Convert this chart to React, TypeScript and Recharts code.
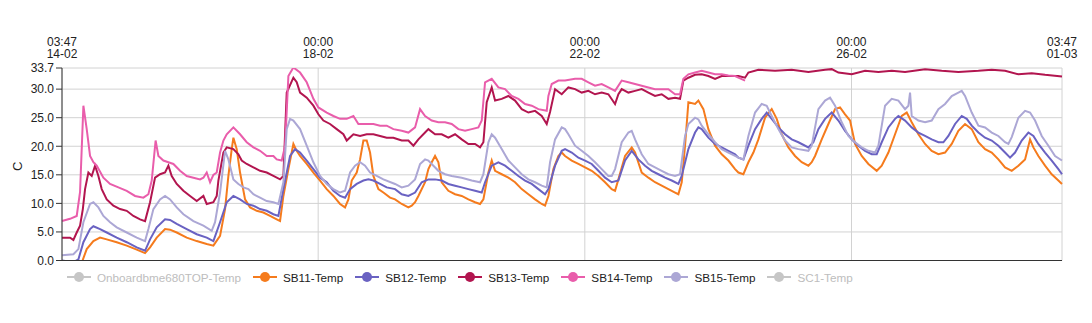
import { CartesianGrid, Label, Line, LineChart, XAxis, YAxis } from "recharts";

// x = hours since 14-02 03:47
const X_TICKS = [0, 92.2167, 188.2167, 284.2167, 360];
const X_TICK_TIME = ["03:47", "00:00", "00:00", "00:00", "03:47"];
const X_TICK_DATE = ["14-02", "18-02", "22-02", "26-02", "01-03"];
const Y_TICKS = [0, 5, 10, 15, 20, 25, 30, 33.7];

const SB11: [number, number][] = [
  [0, -0.3], [4.1, -0.5], [7.1, -0.4], [8.9, 2.0], [11.3, 3.4], [13.7, 4.0], [16.1, 3.7], [19.7, 3.2],
  [23.3, 2.6], [26.9, 1.9], [29.9, 1.3], [31.7, 2.3], [34.1, 4.0], [37.1, 5.5], [38.9, 5.4], [41.3, 4.9],
  [44.9, 4.0], [48.5, 3.4], [52.1, 2.9], [54.5, 2.6], [56.9, 4.3], [58.7, 9.0], [59.9, 14.8], [61.1, 19.5],
  [61.7, 21.5], [62.9, 19.5], [64.1, 15.4], [65.9, 10.7], [67.7, 9.3], [70.1, 8.7], [72.5, 8.4], [74.9, 7.8],
  [77.3, 7.2], [78.5, 6.9], [79.7, 11.3], [81.5, 16.0], [83.3, 20.4], [84.5, 19.2], [85.7, 18.3], [88.1, 16.9],
  [90.5, 15.4], [92.9, 14.0], [95.3, 12.5], [97.7, 11.3], [100.1, 9.9], [101.9, 9.3], [103.1, 10.7], [104.3, 14.0],
  [106.1, 15.4], [107.3, 17.7], [108.5, 21.0], [109.7, 21.0], [110.9, 18.9], [112.1, 14.8], [113.9, 12.5], [115.7, 11.9],
  [118.1, 11.0], [119.9, 10.7], [122.3, 9.9], [124.7, 9.3], [125.9, 9.6], [127.1, 10.2], [128.3, 11.3], [130.7, 13.7],
  [131.9, 16.0], [133.1, 17.2], [134.3, 18.3], [135.5, 17.2], [136.7, 13.7], [139.1, 12.2], [141.5, 11.6], [143.9, 11.3],
  [146.3, 10.7], [148.7, 10.2], [150.5, 9.9], [151.7, 10.7], [153.5, 15.4], [154.7, 17.5], [155.9, 15.7], [158.3, 15.1],
  [160.7, 14.5], [163.1, 13.7], [165.5, 12.5], [167.9, 11.6], [170.3, 10.7], [172.7, 9.9], [173.9, 9.6], [175.1, 11.3],
  [176.9, 16.0], [178.7, 18.3], [179.9, 18.9], [181.1, 18.3], [183.5, 17.5], [185.9, 16.9], [188.3, 16.3], [190.7, 15.7],
  [193.1, 14.8], [195.5, 13.7], [197.9, 12.5], [199.1, 12.2], [200.3, 14.2], [202.7, 18.3], [205.1, 19.8], [206.3, 18.9],
  [208.7, 15.4], [211.1, 14.5], [213.5, 13.7], [215.9, 13.1], [218.3, 12.5], [220.7, 11.9], [221.9, 11.6], [223.1, 13.7],
  [224.3, 20.1], [225.5, 27.7], [227.9, 27.4], [229.1, 28.0], [230.9, 26.5], [232.7, 23.0], [235.1, 20.1], [237.5, 18.6],
  [239.9, 17.5], [242.3, 16.0], [243.5, 15.4], [245.3, 15.1], [247.1, 17.2], [248.9, 18.9], [250.7, 21.2], [253.1, 25.0],
  [255.5, 26.5], [257.3, 24.8], [259.1, 22.1], [261.5, 19.8], [263.9, 18.3], [266.3, 17.2], [268.7, 16.6], [269.9, 17.2],
  [271.1, 18.3], [273.5, 21.2], [275.9, 23.9], [278.3, 26.5], [280.1, 26.8], [281.9, 25.6], [283.7, 24.5], [285.5, 20.4],
  [287.9, 18.3], [290.3, 16.9], [293.3, 15.7], [295.1, 16.6], [297.5, 18.9], [299.9, 22.1], [302.3, 25.3], [304.1, 25.9],
  [305.9, 24.2], [308.3, 22.1], [310.7, 20.4], [313.1, 19.2], [315.5, 18.6], [317.9, 18.9], [320.3, 20.4], [322.7, 22.7],
  [325.1, 23.9], [327.5, 23.0], [329.9, 20.7], [332.3, 19.5], [334.7, 18.9], [337.1, 17.7], [339.5, 16.3], [341.9, 15.7],
  [344.3, 16.6], [346.7, 17.7], [348.5, 21.2], [349.7, 19.8], [351.5, 18.3], [353.9, 16.6], [356.3, 15.1], [358.7, 14.0],
  [360, 13.4],
];

const SB12: [number, number][] = [
  [0, 0], [4.1, -0.3], [5.9, 0.2], [7.7, 3.2], [10.1, 5.5], [11.3, 6.0], [13.7, 5.5], [16.1, 4.9],
  [19.7, 4.0], [23.3, 3.2], [26.9, 2.3], [29.9, 1.7], [31.7, 3.7], [34.1, 5.8], [37.1, 7.2], [38.9, 7.1],
  [41.3, 6.4], [44.9, 5.5], [48.5, 4.6], [52.1, 4.0], [54.5, 3.4], [56.9, 6.7], [59.3, 10.2], [61.7, 11.3],
  [64.1, 10.7], [66.5, 9.9], [68.9, 9.6], [71.3, 9.0], [73.7, 8.7], [76.1, 8.1], [77.9, 7.8], [79.7, 12.5],
  [82.1, 18.3], [83.9, 19.5], [85.7, 18.9], [88.1, 17.5], [90.5, 16.0], [92.9, 14.5], [95.3, 13.7], [97.7, 12.2],
  [100.1, 11.3], [101.9, 11.0], [103.7, 12.5], [106.1, 13.4], [108.5, 14.0], [110.3, 14.2], [112.1, 14.0], [114.5, 13.4],
  [116.9, 12.8], [119.9, 12.5], [122.3, 11.6], [124.7, 11.3], [127.1, 11.9], [129.5, 13.7], [131.9, 14.2], [134.3, 14.2],
  [136.7, 14.0], [139.1, 13.4], [141.5, 13.1], [143.9, 12.8], [146.3, 12.5], [148.7, 12.2], [151.1, 11.9], [152.3, 13.7],
  [154.7, 16.6], [157.1, 17.2], [159.5, 16.6], [161.9, 15.7], [164.3, 14.8], [166.7, 14.0], [169.1, 13.4], [171.5, 12.5],
  [173.9, 11.6], [175.1, 12.5], [177.5, 16.6], [179.9, 19.2], [181.1, 19.5], [183.5, 18.9], [185.9, 18.0], [188.3, 17.5],
  [190.7, 16.9], [193.1, 15.7], [195.5, 14.5], [197.9, 13.7], [200.3, 14.0], [202.7, 17.5], [205.1, 19.2], [207.5, 17.7],
  [209.9, 16.6], [212.3, 15.7], [214.7, 15.1], [217.1, 14.5], [219.5, 14.0], [221.9, 13.4], [223.1, 14.8], [225.5, 19.5],
  [227.9, 22.4], [229.1, 23.3], [230.3, 23.0], [232.7, 21.5], [235.1, 20.4], [237.5, 19.8], [239.9, 19.2], [242.3, 18.6],
  [243.5, 18.0], [245.3, 17.7], [247.1, 20.1], [249.5, 23.0], [251.9, 24.8], [253.7, 25.9], [255.5, 24.8], [257.9, 23.3],
  [260.3, 22.1], [262.7, 21.2], [265.1, 20.7], [268.7, 19.8], [270.5, 20.7], [272.3, 23.0], [274.7, 24.8], [277.1, 25.9],
  [279.5, 24.5], [281.9, 22.7], [284.3, 21.2], [286.7, 20.1], [289.1, 19.2], [291.5, 18.6], [293.3, 18.6], [295.1, 20.7],
  [297.5, 23.3], [299.9, 24.8], [301.1, 25.3], [303.5, 24.5], [305.9, 23.3], [308.3, 22.4], [310.7, 21.8], [313.1, 21.2],
  [315.5, 20.7], [317.3, 20.7], [319.1, 21.8], [321.5, 23.9], [323.9, 25.3], [325.7, 24.8], [327.5, 23.6], [329.9, 22.4],
  [332.3, 21.5], [334.7, 21.0], [337.1, 20.1], [339.5, 18.9], [341.3, 18.0], [343.1, 18.9], [345.5, 21.0], [347.9, 22.4],
  [349.7, 21.8], [351.5, 20.4], [353.9, 18.9], [356.3, 17.5], [358.7, 16.0], [360, 15.1],
];

const SB13: [number, number][] = [
  [0, 4.0], [2.9, 4.0], [4.1, 3.6], [5.3, 4.9], [6.5, 6.1], [7.5, 9.0], [8.3, 12.5], [9.5, 15.4],
  [10.7, 14.8], [11.9, 16.6], [13.1, 14.8], [14.3, 12.5], [16.1, 10.7], [18.5, 9.6], [20.9, 9.0], [23.3, 8.7],
  [25.7, 7.8], [28.1, 7.2], [29.9, 6.9], [31.7, 10.2], [33.5, 14.5], [35.3, 15.1], [37.1, 15.4], [38.3, 16.6],
  [39.5, 14.8], [41.3, 13.4], [43.7, 12.2], [46.1, 11.3], [48.5, 10.4], [50.9, 11.3], [52.1, 9.9], [54.5, 10.2],
  [55.7, 11.3], [56.3, 14.0], [58.1, 18.9], [59.3, 19.8], [61.7, 19.5], [63.5, 18.6], [64.7, 17.5], [66.5, 16.9],
  [68.9, 16.3], [71.3, 15.7], [73.7, 15.4], [76.1, 14.8], [78.5, 14.2], [79.7, 14.8], [80.9, 29.4], [83.3, 32.0],
  [84.5, 31.2], [85.7, 29.4], [88.1, 28.5], [90.5, 27.1], [92.3, 25.6], [94.1, 24.5], [96.5, 23.9], [98.9, 23.0],
  [101.3, 22.1], [102.5, 21.0], [104.9, 22.1], [107.3, 21.8], [109.7, 22.1], [112.1, 22.1], [114.5, 21.8], [116.9, 21.5],
  [119.3, 21.5], [122.3, 21.0], [124.7, 21.0], [126.5, 20.1], [128.3, 21.2], [130.7, 22.4], [131.9, 23.0], [134.3, 22.1],
  [136.7, 22.1], [139.1, 21.5], [141.5, 22.1], [143.9, 21.2], [146.3, 20.4], [148.7, 20.4], [150.5, 19.8], [151.7, 20.7],
  [152.9, 27.7], [154.7, 30.3], [155.9, 28.0], [158.3, 28.3], [160.7, 28.8], [163.1, 28.0], [165.5, 26.5], [167.9, 25.9],
  [170.3, 26.2], [172.7, 25.3], [174.5, 23.9], [175.7, 26.0], [177.5, 30.0], [179.9, 29.1], [182.3, 30.3], [184.7, 30.0],
  [187.1, 29.4], [189.5, 29.7], [191.9, 29.1], [194.3, 29.4], [196.7, 29.1], [199.1, 27.4], [200.3, 29.1], [201.5, 30.0],
  [203.9, 29.4], [206.3, 29.7], [208.7, 30.0], [211.1, 29.4], [213.5, 28.8], [215.9, 29.1], [218.3, 28.3], [220.7, 28.5],
  [222.5, 28.3], [223.7, 31.5], [225.5, 32.0], [227.9, 32.5], [230.3, 32.6], [232.7, 32.3], [235.1, 31.8], [237.5, 32.3],
  [239.9, 32.3], [242.3, 32.3], [243.5, 32.3], [245.9, 32.0], [247.1, 32.9], [250.7, 33.4], [256.7, 33.2], [262.7, 33.4],
  [268.7, 33.0], [274.7, 33.4], [277.1, 33.5], [279.5, 32.9], [284.3, 32.6], [289.1, 33.2], [293.9, 33.0], [298.7, 33.2],
  [303.5, 33.0], [310.7, 33.5], [316.7, 33.2], [322.7, 33.0], [329.9, 33.2], [334.7, 33.4], [339.5, 33.2], [344.3, 32.6],
  [349.1, 32.8], [353.9, 32.5], [360, 32.2],
];

const SB14: [number, number][] = [
  [0, 6.9], [2.9, 7.3], [5.3, 7.8], [6.5, 12.0], [7.7, 27.1], [8.9, 23.0], [10.1, 18.3], [11.3, 17.2],
  [12.5, 16.6], [14.9, 14.5], [17.3, 13.4], [20.3, 12.8], [23.3, 12.2], [26.3, 11.3], [29.3, 11.0], [31.1, 11.6],
  [32.3, 14.0], [33.7, 21.0], [34.7, 18.3], [36.5, 17.5], [38.3, 17.2], [40.1, 16.9], [42.5, 15.7], [44.9, 14.8],
  [47.3, 14.5], [49.7, 14.2], [50.9, 14.5], [52.1, 15.4], [53.3, 13.7], [54.5, 15.0], [55.7, 15.4], [56.9, 18.9],
  [58.1, 21.0], [59.3, 22.1], [61.7, 23.3], [64.1, 22.1], [66.5, 20.7], [68.9, 19.8], [71.3, 19.2], [73.7, 18.3],
  [76.1, 18.3], [77.3, 17.7], [79.1, 17.5], [80.3, 20.0], [81.5, 32.3], [83.3, 33.8], [85.7, 32.9], [88.1, 31.2],
  [90.5, 28.3], [92.3, 26.8], [95.3, 25.9], [97.7, 25.3], [100.1, 24.8], [102.5, 24.8], [104.9, 25.3], [106.7, 23.9],
  [109.7, 23.9], [112.1, 23.9], [114.5, 23.6], [116.9, 23.6], [119.3, 23.0], [122.3, 22.7], [124.7, 22.4], [127.1, 23.3],
  [128.9, 26.5], [130.7, 25.3], [133.1, 24.5], [135.5, 24.2], [137.9, 24.2], [140.3, 23.9], [142.7, 23.0], [145.1, 22.7],
  [147.5, 23.0], [149.9, 23.3], [151.1, 24.5], [152.3, 31.2], [154.7, 31.8], [157.1, 30.3], [159.5, 30.0], [161.9, 28.8],
  [164.3, 28.3], [166.7, 27.4], [169.1, 27.1], [171.5, 26.5], [174.5, 26.2], [175.1, 28.8], [176.3, 30.9], [178.7, 31.5],
  [181.1, 31.5], [184.7, 31.8], [187.1, 31.8], [189.5, 31.2], [191.9, 30.6], [194.3, 30.9], [196.7, 30.3], [199.1, 29.7],
  [201.5, 31.5], [203.9, 31.2], [206.3, 30.9], [208.7, 30.6], [211.1, 30.3], [213.5, 30.0], [215.9, 30.0], [218.3, 30.0],
  [220.7, 29.1], [222.5, 29.1], [223.7, 31.8], [225.5, 32.6], [227.9, 32.9], [230.3, 33.2], [232.7, 32.9], [235.1, 32.6],
  [237.5, 32.6], [239.9, 32.4], [242.3, 32.3], [243.5, 32.0], [245.9, 31.5],
];

const SB15: [number, number][] = [
  [0, 0.9], [4.1, 1.1], [5.9, 2.0], [7.7, 6.7], [10.1, 9.9], [11.3, 10.2], [13.1, 9.3], [14.9, 7.8],
  [17.3, 6.7], [19.7, 5.8], [23.3, 4.9], [26.9, 4.0], [29.9, 3.4], [31.1, 5.5], [32.9, 9.0], [35.3, 10.7],
  [37.1, 11.3], [38.9, 10.7], [41.3, 9.3], [43.7, 8.1], [47.3, 6.9], [50.9, 6.1], [53.9, 5.2], [55.1, 6.7],
  [56.9, 11.9], [58.7, 19.2], [59.9, 17.7], [61.7, 14.2], [63.5, 13.4], [65.3, 12.8], [67.1, 12.5], [68.9, 11.6],
  [71.3, 11.0], [73.7, 10.4], [76.1, 10.2], [77.9, 9.9], [79.7, 13.7], [80.9, 23.0], [82.1, 24.8], [83.3, 24.5],
  [85.7, 23.0], [88.1, 20.1], [90.5, 17.2], [92.9, 14.8], [95.3, 13.4], [97.7, 12.5], [100.1, 11.9], [101.9, 12.2],
  [103.7, 15.4], [105.5, 16.6], [107.3, 17.2], [109.1, 16.6], [110.9, 15.4], [113.3, 14.8], [115.7, 14.2], [119.9, 13.4],
  [122.3, 12.8], [124.7, 13.1], [127.1, 14.2], [128.9, 16.9], [130.7, 17.7], [131.9, 17.5], [133.7, 16.6], [135.5, 15.7],
  [137.9, 15.1], [140.3, 14.8], [143.9, 14.5], [147.5, 14.0], [150.5, 13.7], [151.7, 15.1], [153.5, 20.7], [154.7, 22.1],
  [155.9, 21.5], [158.3, 19.5], [160.7, 17.5], [163.1, 16.3], [165.5, 15.1], [167.9, 14.2], [170.3, 13.7], [172.7, 13.1],
  [174.5, 12.8], [175.7, 17.2], [177.5, 21.2], [179.9, 23.3], [181.1, 23.0], [182.3, 22.1], [184.7, 20.1], [187.1, 19.2],
  [189.5, 18.3], [191.9, 17.2], [194.3, 16.0], [196.7, 14.8], [197.9, 14.8], [199.1, 16.0], [201.5, 20.7], [203.9, 22.4],
  [205.1, 22.7], [206.3, 21.2], [208.7, 18.6], [211.1, 16.9], [213.5, 16.3], [215.9, 15.7], [218.3, 15.1], [220.7, 14.8],
  [222.5, 15.1], [224.3, 21.8], [225.5, 23.9], [227.9, 25.0], [229.1, 24.7], [230.3, 23.6], [232.7, 22.1], [235.1, 20.7],
  [237.5, 19.5], [239.9, 18.9], [242.3, 18.3], [243.5, 18.0], [245.3, 17.7], [247.1, 21.8], [249.5, 25.9], [251.9, 27.4],
  [253.7, 27.1], [255.5, 25.3], [257.9, 23.0], [260.3, 21.0], [262.7, 19.8], [265.1, 19.5], [268.7, 19.2], [269.9, 20.1],
  [272.3, 26.5], [274.7, 28.0], [276.5, 28.5], [278.3, 27.1], [280.7, 24.2], [283.1, 21.8], [285.5, 20.7], [287.9, 19.8],
  [290.3, 19.2], [292.7, 18.9], [293.9, 20.1], [296.3, 27.1], [298.7, 28.3], [301.1, 28.0], [303.5, 26.5], [304.7, 27.1],
  [305.3, 29.4], [305.9, 25.3], [308.3, 24.5], [310.7, 24.2], [313.1, 24.5], [315.5, 26.5], [317.9, 27.4], [320.3, 28.8],
  [322.7, 29.4], [323.9, 29.7], [325.1, 28.8], [327.5, 25.9], [329.9, 23.6], [332.3, 23.3], [334.7, 22.4], [337.1, 21.8],
  [339.5, 20.7], [340.7, 20.4], [341.9, 21.6], [344.3, 25.0], [346.7, 26.2], [348.5, 25.9], [350.3, 24.5], [352.7, 21.8],
  [355.1, 20.1], [357.5, 18.3], [360, 17.5],
];

const SERIES = [
  { name: "Onboardbme680TOP-Temp", color: "#c6c6c6", data: null as [number, number][] | null },
  { name: "SB11-Temp", color: "#f57b1d", data: SB11 },
  { name: "SB12-Temp", color: "#6a62c2", data: SB12 },
  { name: "SB13-Temp", color: "#b2154f", data: SB13 },
  { name: "SB14-Temp", color: "#e95dab", data: SB14 },
  { name: "SB15-Temp", color: "#aca7d5", data: SB15 },
  { name: "SC1-Temp", color: "#c6c6c6", data: null as [number, number][] | null },
];

const INK = "#222";
const AXIS = "#333";
const GRID = "#d2d2d2";
const FONT = "'Liberation Sans', Arial, Helvetica, sans-serif";

function TopTick(props: { x?: number; payload?: { value: number } }) {
  const { x, payload } = props;
  const i = X_TICKS.indexOf(payload?.value ?? -1);
  if (i < 0 || x == null) return <g />;
  return (
    <g>
      <text x={x} y={37.5} textAnchor="middle" fontSize={12} fill={INK} fontFamily={FONT}>
        {X_TICK_TIME[i]}
      </text>
      <text x={x} y={49.5} textAnchor="middle" fontSize={12} fill={INK} fontFamily={FONT}>
        {X_TICK_DATE[i]}
      </text>
    </g>
  );
}

function LegendMarker({ color }: { color: string }) {
  return (
    <svg width={24} height={12} style={{ display: "block" }}>
      <line x1={0} y1={6} x2={24} y2={6} stroke={color} strokeWidth={2} />
      <circle cx={12} cy={6} r={5} fill={color} />
    </svg>
  );
}

export default function App() {
  return (
    <div style={{ position: "relative", width: 1084, height: 300, fontFamily: FONT }}>
      <LineChart width={1084} height={262} margin={{ top: 20, right: 30, bottom: 3.5, left: 6 }}>
        <CartesianGrid xAxisId="top" stroke={GRID} strokeWidth={1} />
        <XAxis
          xAxisId="top"
          orientation="top"
          type="number"
          dataKey="h"
          domain={[0, 360]}
          ticks={X_TICKS}
          interval={0}
          height={40}
          axisLine={false}
          tickLine={false}
          tick={<TopTick />}
        />
        <XAxis
          xAxisId="bottom"
          orientation="bottom"
          type="number"
          dataKey="h"
          domain={[0, 360]}
          ticks={X_TICKS}
          interval={0}
          height={6}
          axisLine={{ stroke: AXIS }}
          tickLine={{ stroke: AXIS }}
          tickSize={4}
          tickFormatter={() => ""}
        />
        <YAxis
          type="number"
          domain={[0, 33.7]}
          allowDataOverflow
          ticks={Y_TICKS}
          interval={0}
          width={48}
          axisLine={{ stroke: AXIS }}
          tickLine={{ stroke: AXIS }}
          tickSize={6}
          tick={{ fontSize: 12, fill: INK, fontFamily: FONT }}
          tickFormatter={(v: number) => v.toFixed(1)}
        >
          <Label
            content={(p: { viewBox?: { x: number; y: number; height: number } }) => {
              const vb = p.viewBox;
              if (!vb) return null;
              const cx = vb.x + 3;
              const cy = vb.y + vb.height / 2 + 2;
              return (
                <text
                  x={cx}
                  y={cy}
                  transform={`rotate(-90 ${cx} ${cy})`}
                  textAnchor="middle"
                  dominantBaseline="central"
                  fontSize={13}
                  fill={INK}
                  fontFamily={FONT}
                >
                  C
                </text>
              );
            }}
          />
        </YAxis>
        {SERIES.filter((s) => s.data).map((s) => (
          <Line
            key={s.name}
            xAxisId="top"
            name={s.name}
            data={(s.data as [number, number][]).map(([h, v]) => ({ h, v }))}
            dataKey="v"
            type="linear"
            stroke={s.color}
            strokeWidth={2}
            dot={false}
            isAnimationActive={false}
          />
        ))}
      </LineChart>
      <div
        style={{
          position: "absolute",
          left: 59,
          top: 261,
          height: 16,
          display: "flex",
          alignItems: "center",
          fontSize: 11.7,
          whiteSpace: "nowrap",
        }}
      >
        {SERIES.map((s) => (
          <div key={s.name} style={{ display: "flex", alignItems: "center", marginRight: 12 }}>
            <LegendMarker color={s.color} />
            <span style={{ marginLeft: 6, color: s.data ? INK : "#bdbdbd" }}>{s.name}</span>
          </div>
        ))}
      </div>
    </div>
  );
}
